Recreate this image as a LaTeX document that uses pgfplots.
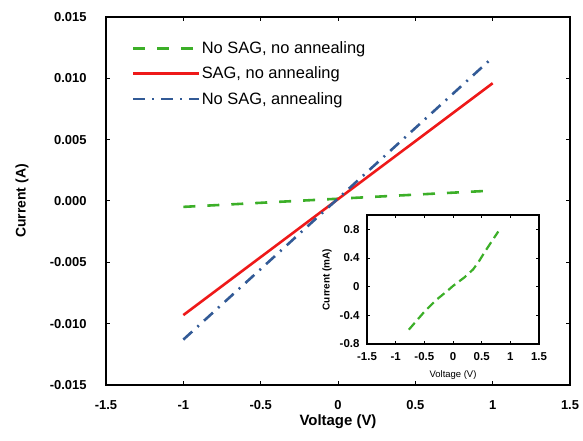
\documentclass[border=0pt]{standalone}
\usepackage{fontspec}
\setmainfont{Liberation Sans}
\usepackage{pgfplots}
\pgfplotsset{compat=1.18}
\definecolor{cgreen}{RGB}{60,175,40}
\definecolor{cred}{RGB}{238,25,25}
\definecolor{cblue}{RGB}{50,90,150}
\begin{document}
\begin{tikzpicture}[x=1bp,y=1bp]
\path (0,0) rectangle (583,441);
\begin{axis}[
  at={(106bp,56bp)}, anchor=south west,
  scale only axis, width=464bp, height=368bp,
  xmin=-1.5, xmax=1.5, ymin=-0.015, ymax=0.015,
  xtick={-1.5,-1,-0.5,0,0.5,1,1.5},
  xticklabels={-1.5,-1,-0.5,0,0.5,1,1.5},
  ytick={-0.015,-0.01,-0.005,0,0.005,0.01,0.015},
  yticklabels={-0.015,-0.010,-0.005,0.000,0.005,0.010,0.015},
  tick align=inside, major tick length=4bp,
  tick style={black, line width=1pt},
  axis line style={line width=1.2pt},
  ticklabel style={font=\fontsize{13}{15}\selectfont\bfseries},
  yticklabel style={xshift=-16bp},
  xticklabel style={yshift=-12bp},
  scaled y ticks=false,
  xlabel={\fontsize{15}{17}\selectfont\bfseries Voltage (V)},
  ylabel={\fontsize{14}{16}\selectfont\bfseries Current (A)},
  xlabel style={at={(axis description cs:0.5,0)}, anchor=center, yshift=-37bp},
  ylabel style={at={(axis description cs:-0.181,0.5)}, anchor=center},
  legend style={draw=none, fill=none, at={(axis description cs:0.056,0.846)}, anchor=west,
    font=\fontsize{16.5}{18}\selectfont, row sep=10bp, inner sep=0pt,
    nodes={inner sep=1pt, anchor=west}},
  legend cell align=left,
  legend image code/.code={\draw[#1] (0bp,0bp) -- (58bp,0bp); \path (0bp,0bp) -- (66bp,0bp);},
]
\addplot[cgreen, line width=2.6pt, dash pattern=on 12bp off 12bp] coordinates {(-1,-0.00048) (1,0.00085)};
\addlegendentry{No SAG, no annealing}
\addplot[cred, line width=2.6pt] coordinates {(-1,-0.0093) (1,0.0096)};
\addlegendentry{SAG, no annealing}
\addplot[cblue, line width=2.6pt, dash pattern=on 12bp off 7bp on 2bp off 7bp] coordinates {(-1,-0.0113) (1,0.0117)};
\addlegendentry{No SAG, annealing}
\end{axis}
\begin{axis}[
  at={(367bp,97bp)}, anchor=south west,
  scale only axis, width=172bp, height=129bp,
  axis background/.style={fill=white},
  xmin=-1.5, xmax=1.5, ymin=-0.8, ymax=1.0,
  xtick={-1.5,-1,-0.5,0,0.5,1,1.5},
  xticklabels={-1.5,-1,-0.5,0,0.5,1,1.5},
  ytick={-0.8,-0.4,0,0.4,0.8},
  yticklabels={-0.8,-0.4,0,0.4,0.8},
  tick align=inside, major tick length=3bp,
  tick style={black, line width=0.8pt},
  axis line style={line width=1.1pt},
  ticklabel style={font=\fontsize{11.5}{13}\selectfont\bfseries},
  yticklabel style={xshift=-4bp},
  xticklabel style={yshift=-5bp},
  xlabel={\fontsize{9.5}{11}\selectfont Voltage (V)},
  ylabel={\fontsize{10}{12}\selectfont\bfseries Current (mA)},
  xlabel style={at={(axis description cs:0.5,0)}, anchor=center, yshift=-31bp},
  ylabel style={at={(axis description cs:-0.233,0.5)}, anchor=center},
]
\addplot[cgreen, line width=2.2pt, dash pattern=on 9bp off 5bp] coordinates {
(-0.77,-0.60) (-0.5,-0.35) (-0.3,-0.19) (-0.1,-0.06) (0,0.01) (0.2,0.13) (0.35,0.24) (0.45,0.35) (0.55,0.48) (0.79,0.77)};
\end{axis}
\end{tikzpicture}
\end{document}
